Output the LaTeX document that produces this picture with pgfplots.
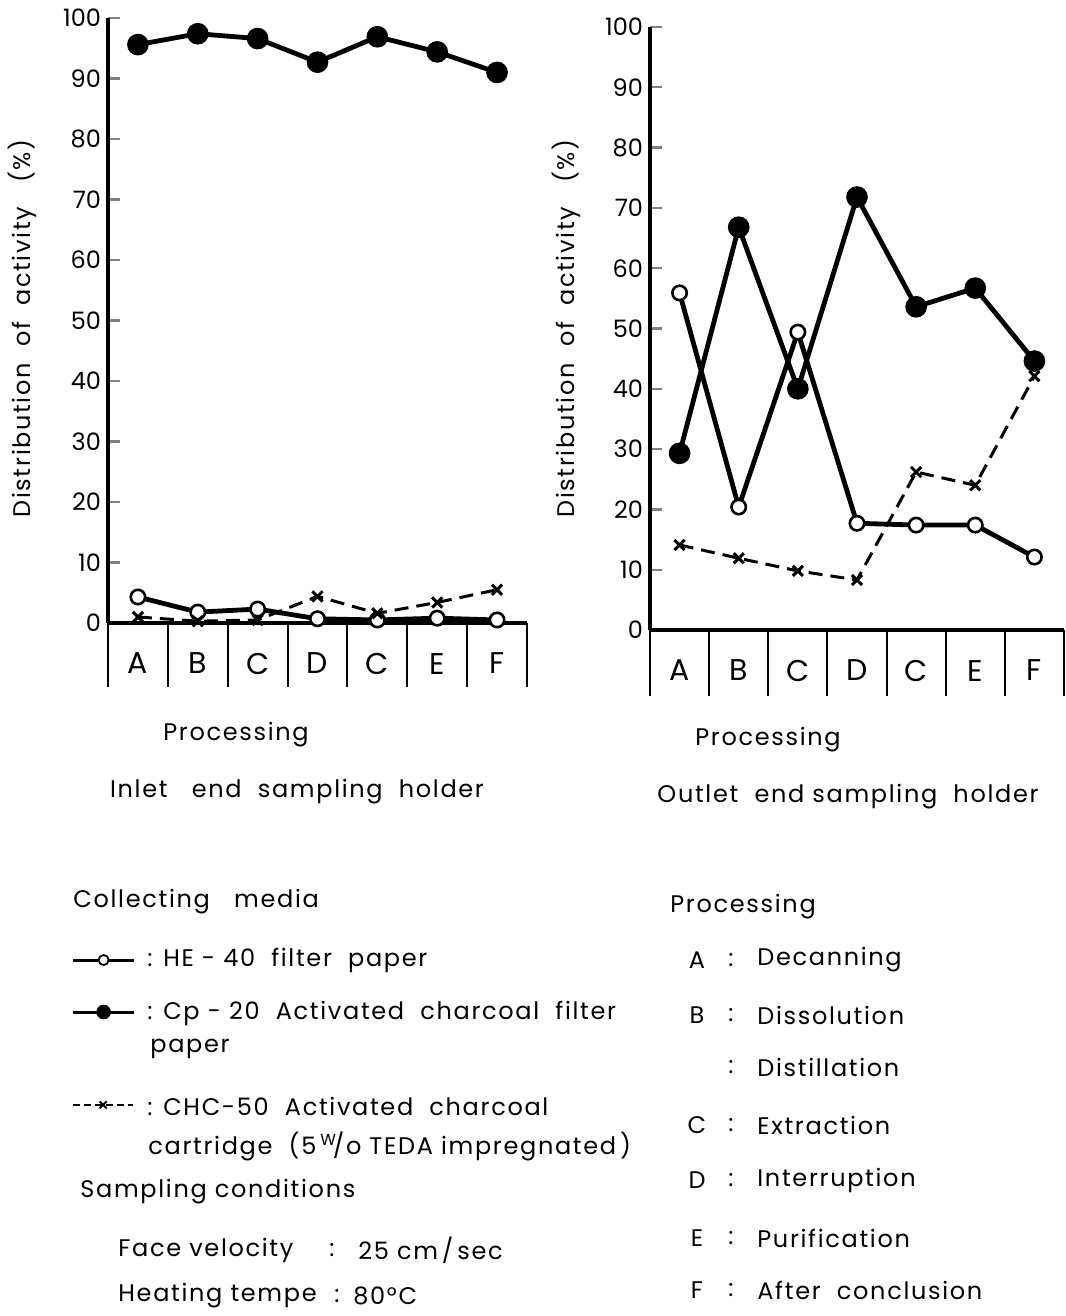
\documentclass[border=0pt]{standalone}
\usepackage{fontspec}
\setmainfont{Poppins}[LetterSpace=7]
\usepackage{pgfplots}
\pgfplotsset{compat=1.18}
\newcommand{\fs}{\fontsize{12}{14}\selectfont}
\begin{document}
\begin{tikzpicture}
\begin{scope}[x=0.5pt,y=-0.5pt]
\path[use as bounding box] (0,0) rectangle (1065,1316);
\end{scope}
\pgfplotsset{
 myax/.style={
  scale only axis, axis lines=left, axis line style={-, line width=2pt},
  xmin=-0.5,xmax=6.5,ymin=0,ymax=100,
  xtick={0,...,6}, xticklabels={A,B,C,D,C,E,F},
  x tick label style={font=\fontsize{15}{18}\selectfont, yshift=-11.5pt},
  major x tick style={draw=none},
  ytick={0,10,...,100}, tick align=inside,
  major y tick style={line width=1.2pt}, major tick length=6pt,
  y tick label style={font=\fs\addfontfeatures{LetterSpace=0}},
  /pgf/number format/assume math mode=true,
  ylabel={Distribution\ \ of\ \ activity\ \ \ (\%)},
  label style={font=\fs},
  clip=false,
 },
 openm/.style={line width=2.4pt, mark=*, mark size=3.6pt, mark options={fill=white, line width=1.3pt, solid}},
 fillm/.style={line width=2.4pt, mark=*, mark size=4.2pt, mark options={fill=black, solid}},
 crossm/.style={line width=1.5pt, dash pattern=on 7pt off 4pt, mark=x, mark size=3.6pt, mark options={line width=1.5pt, solid}},
 keyax/.style={hide axis, scale only axis, at={(0pt,0pt)}, anchor=north west, width=532.5pt, height=658pt,
   xmin=0,xmax=1,ymin=0,ymax=1,
   legend style={at={(#1)}, anchor=west, draw=none, fill=none, inner sep=0pt, outer sep=0pt, cells={inner sep=0pt}, column sep=0pt},
   legend image code/.code={\draw[mark repeat=2,mark phase=2,##1] plot coordinates {(0cm,0cm) (0.53cm,0cm) (1.06cm,0cm)};}},
}
\begin{axis}[myax, at={(54pt,-311.5pt)}, anchor=south west, width=209.5pt, height=302.5pt,
  ylabel style={at={(axis description cs:-0.205,0.487)}, anchor=center}]
\addplot[openm] coordinates {(0,4.3)(1,1.8)(2,2.3)(3,0.7)(4,0.5)(5,0.8)(6,0.5)};
\addplot[fillm] coordinates {(0,95.6)(1,97.4)(2,96.6)(3,92.7)(4,96.9)(5,94.4)(6,91.0)};
\addplot[crossm] coordinates {(0,1.0)(1,0.3)(2,0.5)(3,4.4)(4,1.6)(5,3.4)(6,5.5)};
\pgfplotsinvokeforeach{-0.5,0.5,1.5,2.5,3.5,4.5,5.5,6.5}{\draw[line width=1pt] (axis cs:#1,0) -- ++(0pt,-32pt);}
\end{axis}
\begin{axis}[myax, at={(325pt,-315pt)}, anchor=south west, width=207pt, height=301.5pt,
  ylabel style={at={(axis description cs:-0.203,0.50)}, anchor=center}]
\addplot[openm] coordinates {(0,55.9)(1,20.4)(2,49.4)(3,17.7)(4,17.4)(5,17.4)(6,12.1)};
\addplot[fillm] coordinates {(0,29.3)(1,66.8)(2,40)(3,71.8)(4,53.6)(5,56.7)(6,44.6)};
\addplot[crossm] coordinates {(0,14.1)(1,11.9)(2,9.8)(3,8.3)(4,26.2)(5,24)(6,42.1)};
\pgfplotsinvokeforeach{-0.5,0.5,1.5,2.5,3.5,4.5,5.5,6.5}{\draw[line width=1pt] (axis cs:#1,0) -- ++(0pt,-33pt);}
\end{axis}
% legend keys (one legend per hidden axis)
\begin{axis}[keyax={0.0676,0.2705}]
\addlegendimage{line width=1.5pt, mark=*, mark size=2.5pt, mark options={fill=white, line width=0.9pt}}
\legend{{\mbox{}}}
\end{axis}
\begin{axis}[keyax={0.0676,0.2310}]
\addlegendimage{line width=1.5pt, mark=*, mark size=2.9pt, mark options={fill=black}}
\legend{{\mbox{}}}
\end{axis}
\begin{axis}[keyax={0.0676,0.1604}]
\addlegendimage{line width=1pt, dash pattern=on 3.5pt off 2pt, mark=x, mark size=2.5pt, mark options={solid, line width=1pt}}
\legend{{\mbox{}}}
\end{axis}
\begin{scope}[x=0.5pt,y=-0.5pt, every node/.style={font=\fs, inner sep=0pt}]
\node at (236,735) {Processing};
\node at (297,792) {Inlet\ \ \ end\ \ sampling\ \ holder};
\node at (768,740) {Processing};
\node at (848,797) {Outlet\ \ end\ sampling\ \ holder};
\node[anchor=west] at (73,902) {Collecting\ \ \ media};
\node[anchor=west] at (147,960) {: HE - 40\ \ filter\ \ paper};
\node[anchor=west] at (147,1013) {: Cp - 20\ \ Activated\ \ charcoal\ \ filter};
\node[anchor=west] at (150,1049) {paper};
\node[anchor=west] at (147,1106) {: CHC-50\ \ Activated\ \ charcoal};
\node[anchor=west] at (148,1146) {cartridge\ \ (5\,\textsuperscript{W}\!/o TEDA impregnated\,)};
\node[anchor=west] at (80,1192) {Sampling\ conditions};
\node[anchor=west] at (118,1250) {Face velocity};
\node[anchor=west] at (329,1250) {:};
\node[anchor=west] at (358,1250) {25\ cm\,/\,sec};
\node[anchor=west] at (118,1296) {Heating tempe};
\node[anchor=west] at (334,1296) {:};
\node[anchor=west] at (353,1296) {80°C};
\node[anchor=west] at (670,907) {Processing};
\foreach \l/\t/\y in {A/Decanning/960, B/Dissolution/1015, /Distillation/1067, C/Extraction/1125, D/Interruption/1180, E/Purification/1238, F/After\ \ conclusion/1290}{
  \node at (697,\y) {\l};
  \node at (731,\y) {:};
  \node[anchor=west] at (757,\y) {\t};
}
\end{scope}
\end{tikzpicture}
\end{document}
